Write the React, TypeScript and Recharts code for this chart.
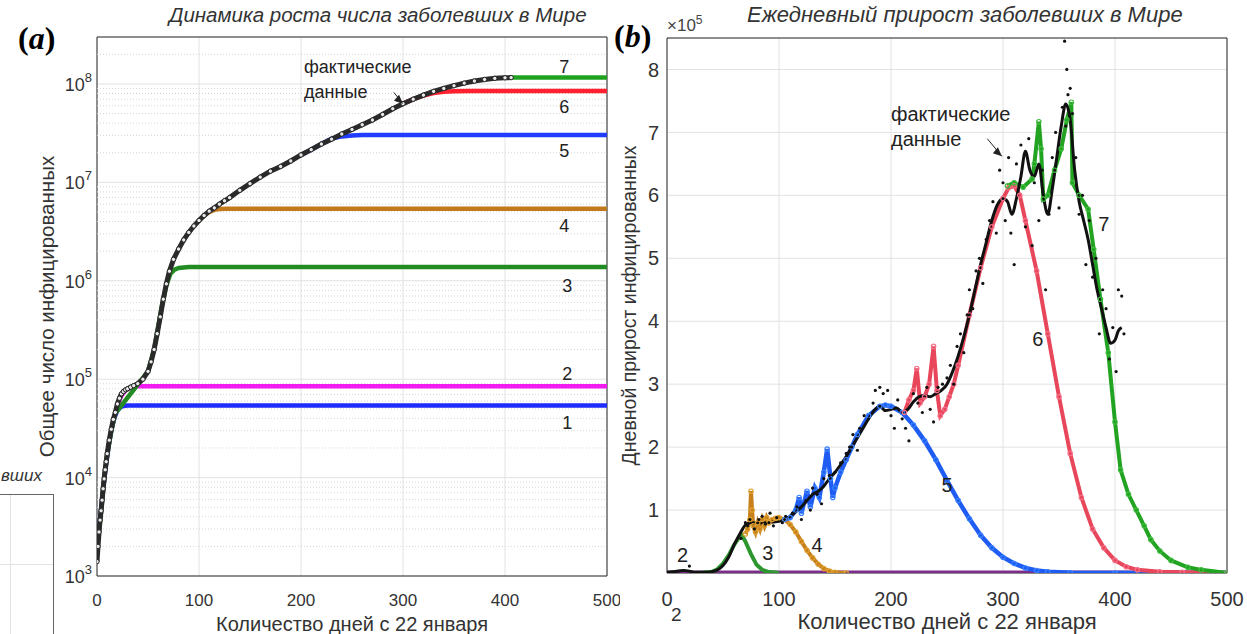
import React from "react";
import {
  ComposedChart,
  Line,
  Scatter,
  XAxis,
  YAxis,
  CartesianGrid,
  ReferenceLine,
  ReferenceDot,
  ReferenceArea,
} from "recharts";

// ---------- panel (a): cumulative cases, log scale ----------
const dayTicks = [0, 100, 200, 300, 400, 500];
const logTicks = [1e3, 1e4, 1e5, 1e6, 1e7, 1e8];

const actualDays = [
  0, 1, 2, 3, 4, 5, 6, 7, 8, 9, 10, 12, 14, 16, 18, 20, 22, 24, 26, 28, 30, 33, 36, 40, 45, 50, 53, 56, 59, 62,
  65, 68, 71, 75, 80, 85, 90, 95, 100, 105, 110, 115, 120, 125, 130, 140, 150, 160, 170, 180, 190, 200, 210,
  220, 230, 240, 250, 260, 270, 280, 290, 300, 310, 320, 330, 340, 350, 360, 370, 380, 390, 400, 406,
];
const actualCases = [
  1.4e3, 2.0e3, 2.8e3, 3.7e3, 4.6e3, 5.9e3, 7.7e3, 9.7e3, 1.2e4, 1.45e4, 1.75e4, 2.4e4, 3.1e4, 3.9e4, 4.6e4,
  5.6e4, 6.4e4, 7.1e4, 7.5e4, 7.8e4, 8.0e4, 8.3e4, 8.6e4, 9.0e4, 1.0e5, 1.2e5, 1.5e5, 2.0e5, 2.9e5, 4.3e5,
  6.5e5, 9.3e5, 1.25e6, 1.65e6, 2.1e6, 2.6e6, 3.1e6, 3.6e6, 4.1e6, 4.6e6, 5.1e6, 5.5e6, 6.0e6, 6.5e6, 7.0e6,
  8.3e6, 9.7e6, 1.13e7, 1.3e7, 1.45e7, 1.65e7, 1.9e7, 2.15e7, 2.45e7, 2.75e7, 3.1e7, 3.45e7, 3.85e7, 4.3e7,
  4.9e7, 5.6e7, 6.3e7, 7.0e7, 7.7e7, 8.4e7, 9.0e7, 9.6e7, 1.02e8, 1.07e8, 1.11e8, 1.14e8, 1.155e8, 1.16e8,
];

const fit1Days = [0, 2, 4, 6, 8, 10, 12, 14, 16, 18, 20, 23, 26, 30, 500];
const fit1Cases = [2.0e3, 3.0e3, 4.8e3, 7.5e3, 1.15e4, 1.65e4, 2.3e4, 3.0e4, 3.7e4, 4.3e4, 4.8e4, 5.2e4, 5.35e4, 5.4e4, 5.4e4];
const fit2Days = [20, 24, 28, 32, 36, 42, 500];
const fit2Cases = [5.5e4, 6.8e4, 7.7e4, 8.1e4, 8.35e4, 8.5e4, 8.5e4];
const fit3Days = [0, 2, 4, 6, 8, 10, 14, 18, 50, 56, 60, 64, 68, 72, 76, 80, 90, 500];
const fit3Cases = [2.2e3, 2.9e3, 4.5e3, 7.6e3, 1.2e4, 1.7e4, 3.0e4, 4.5e4, 1.2e5, 2.0e5, 3.4e5, 5.8e5, 9.0e5, 1.18e6, 1.3e6, 1.35e6, 1.38e6, 1.38e6];
const fit4Days = [100, 105, 110, 115, 120, 128, 500];
const fit4Cases = [4.1e6, 4.6e6, 5.0e6, 5.25e6, 5.35e6, 5.4e6, 5.4e6];
const fit5Days = [200, 210, 220, 230, 240, 250, 260, 500];
const fit5Cases = [1.9e7, 2.15e7, 2.45e7, 2.78e7, 2.93e7, 3.0e7, 3.03e7, 3.03e7];
const fit6Days = [300, 310, 320, 330, 340, 350, 365, 500];
const fit6Cases = [6.3e7, 7.0e7, 7.6e7, 8.1e7, 8.35e7, 8.45e7, 8.5e7, 8.5e7];
const fit7Days = [406, 500];
const fit7Cases = [1.16e8, 1.16e8];

// ---------- panel (b): daily new cases ----------
const dailyTicks = [100000, 200000, 300000, 400000, 500000, 600000, 700000, 800000];

const avgDays = [
  0, 5, 10, 15, 20, 25, 30, 35, 40, 45, 50, 55, 60, 65, 70, 75, 80, 85, 90, 95, 100, 105, 110, 115, 120, 125,
  130, 135, 140, 145, 150, 155, 160, 165, 170, 175, 180, 185, 190, 195, 200, 205, 210, 215, 220, 225, 230, 235,
  240, 245, 250, 255, 260, 265, 270, 275, 280, 285, 290, 295, 300, 304, 308, 312, 316, 320, 324, 328, 332, 336,
  340, 344, 348, 352, 356, 360, 364, 368, 372, 376, 380, 384, 388, 392, 396, 400, 403, 406,
];
const avgCases = [
  1000, 2000, 3000, 4000, 3000, 1000, 1000, 1000, 2000, 5000, 12000, 25000, 45000, 62000, 76000, 80000, 79000,
  80000, 80000, 81000, 82000, 85000, 90000, 97000, 105000, 115000, 125000, 130000, 138000, 150000, 160000,
  172000, 185000, 200000, 215000, 230000, 245000, 258000, 265000, 258000, 260000, 262000, 255000, 260000,
  272000, 280000, 282000, 280000, 285000, 290000, 300000, 320000, 345000, 375000, 410000, 450000, 490000,
  525000, 560000, 585000, 595000, 590000, 570000, 595000, 630000, 670000, 640000, 630000, 650000, 600000,
  570000, 610000, 660000, 710000, 745000, 720000, 640000, 590000, 560000, 530000, 490000, 450000, 420000,
  390000, 365000, 370000, 385000, 390000,
];

const dotDays = [
  20, 66, 70, 72, 74, 78, 82, 85, 88, 92, 95, 98, 103, 106, 112, 116, 120, 124, 128, 130, 134, 138, 140, 145,
  150, 155, 160, 163, 166, 170, 172, 176, 180, 184, 186, 190, 193, 197, 200, 203, 206, 210, 213, 216, 220, 224,
  228, 232, 235, 238, 242, 246, 250, 253, 256, 259, 262, 265, 268, 270, 273, 276, 279, 282, 285, 288, 291, 294,
  297, 300, 302, 305, 307, 310, 312, 316, 320, 323, 326, 328, 332, 335, 338, 341, 344, 347, 350, 353, 355, 356,
  357, 358, 360, 362, 365, 368, 371, 374, 377, 380, 383, 386, 389, 392, 395, 398, 401, 403, 406, 408,
];
const dotCases = [
  11000, 55000, 80000, 75000, 85000, 70000, 85000, 90000, 78000, 95000, 75000, 88000, 80000, 90000, 95000,
  105000, 85000, 115000, 100000, 135000, 125000, 110000, 150000, 155000, 160000, 175000, 190000, 200000,
  220000, 195000, 230000, 250000, 245000, 270000, 290000, 295000, 285000, 290000, 250000, 230000, 275000,
  245000, 230000, 210000, 285000, 270000, 255000, 295000, 260000, 240000, 295000, 300000, 310000, 330000,
  300000, 360000, 380000, 350000, 410000, 450000, 420000, 480000, 500000, 460000, 530000, 560000, 590000,
  540000, 640000, 620000, 560000, 660000, 540000, 490000, 650000, 680000, 550000, 690000, 520000, 620000,
  560000, 640000, 450000, 570000, 660000, 700000, 580000, 740000, 845000, 710000, 800000, 760000, 770000,
  730000, 660000, 570000, 600000, 490000, 560000, 470000, 500000, 380000, 450000, 420000, 340000, 390000,
  320000, 450000, 440000, 380000,
];

const c3Days = [30, 40, 45, 50, 55, 60, 65, 67, 70, 75, 80, 85, 90, 100];
const c3Cases = [0, 2000, 6000, 15000, 28000, 45000, 58000, 60000, 50000, 30000, 13000, 5000, 2000, 0];
const c4Days = [70, 72, 74, 75, 76, 77, 79, 81, 83, 85, 87, 89, 91, 94, 97, 100, 105, 110, 115, 120, 125, 130, 135, 140, 145, 150, 160];
const c4Cases = [
  62000, 70000, 85000, 130000, 100000, 75000, 65000, 80000, 70000, 85000, 75000, 88000, 80000, 85000, 87000,
  88000, 85000, 77000, 65000, 50000, 36000, 24000, 14000, 7000, 3000, 1000, 0,
];
const c5Days = [
  105, 110, 115, 118, 120, 125, 128, 132, 136, 140, 143, 146, 148, 150, 155, 160, 165, 170, 180, 190, 195, 200,
  210, 220, 230, 240, 250, 260, 270, 280, 290, 300, 310, 320, 330, 340, 360, 400, 500,
];
const c5Cases = [
  85000, 88000, 100000, 120000, 95000, 130000, 105000, 135000, 120000, 160000, 197000, 150000, 120000, 135000,
  160000, 180000, 200000, 220000, 250000, 265000, 267000, 265000, 255000, 235000, 210000, 180000, 147000,
  115000, 86000, 60000, 40000, 25000, 15000, 8000, 4000, 2000, 500, 0, 0,
];
const c6Days = [
  212, 216, 220, 223, 226, 230, 234, 238, 241, 244, 248, 252, 256, 260, 270, 280, 290, 300, 305, 310, 315, 320,
  330, 340, 350, 360, 370, 380, 390, 400, 410, 420, 440, 460, 500,
];
const c6Cases = [
  255000, 275000, 290000, 325000, 270000, 280000, 300000, 360000, 290000, 250000, 260000, 280000, 300000,
  330000, 410000, 485000, 550000, 595000, 612000, 615000, 600000, 560000, 480000, 380000, 280000, 190000,
  120000, 70000, 40000, 20000, 10000, 5000, 2000, 1000, 0,
];
const c7Days = [
  304, 310, 318, 326, 328, 332, 334, 336, 340, 346, 352, 357, 361, 362, 368, 376, 381, 387, 394, 400, 405, 412,
  419, 426, 432, 440, 450, 465, 477, 500,
];
const c7Cases = [
  615000, 620000, 613000, 626000, 650000, 717000, 674000, 594000, 600000, 640000, 674000, 720000, 748000,
  620000, 600000, 578000, 514000, 435000, 350000, 240000, 164000, 125000, 100000, 75000, 53000, 35000, 20000,
  9000, 5000, 0,
];
const baseDays = [0, 500];
const baseCases = [0, 0];

const zip = (xs: number[], ys: number[]) => xs.map((x, i) => ({ x, y: ys[i] }));

const minorLog: number[] = [];
for (let d = 3; d <= 8; d++) {
  for (let k = 2; k <= 9; k++) {
    const v = k * Math.pow(10, d);
    if (v < 3e8) minorLog.push(v);
  }
}

const font = "'Liberation Sans', Arial, sans-serif";
const ink = "#333";

function LogTick(props: any) {
  const { x, y, payload } = props;
  const e = Math.round(Math.log10(payload.value));
  return (
    <text x={x} y={y + 7} textAnchor="end" fill={ink} fontSize={18} fontFamily={font}>
      10
      <tspan dy={-9} fontSize={13}>
        {e}
      </tspan>
    </text>
  );
}

const numLabel = (value: string, fs = 18) => ({
  value,
  position: "center" as const,
  fontSize: fs,
  fill: "#222",
  fontFamily: font,
});

const noteLabel = (value: string, fs: number) => ({
  value,
  position: "right" as const,
  offset: 0,
  fontSize: fs,
  fill: "#222",
  fontFamily: font,
});

function ArrowHead(props: any) {
  const { cx, cy } = props;
  return <path d={`M ${cx} ${cy} L ${cx - 9} ${cy - 3} L ${cx - 4} ${cy - 9} Z`} fill="#222" />;
}

function CumulativeChart() {
  return (
    <ComposedChart
      width={620}
      height={634}
      margin={{ top: 37, right: 13, left: 37, bottom: 8 }}
      style={{ position: "absolute", left: 0, top: 0 }}
    >
      <CartesianGrid stroke="#e2e2e2" />
      <XAxis
        dataKey="x"
        type="number"
        domain={[0, 500]}
        ticks={dayTicks}
        allowDataOverflow
        height={50}
        tickLine={false}
        axisLine={false}
        tickMargin={12}
        tick={{ fontSize: 17, fill: ink, fontFamily: font }}
        label={{ value: "Количество дней с 22 января", position: "insideBottom", offset: -5, fontSize: 20, fill: ink, fontFamily: font }}
      />
      <YAxis
        dataKey="y"
        type="number"
        scale="log"
        domain={[1000, 3e8]}
        ticks={logTicks}
        allowDataOverflow
        width={60}
        tickLine={false}
        axisLine={false}
        tickSize={0}
        tickMargin={5}
        tick={<LogTick />}
        label={{ value: "Общее число инфицированных", angle: -90, position: "center", dx: -20, fontSize: 20.5, fill: ink, fontFamily: font }}
      />
      {minorLog.map((v) => (
        <ReferenceLine key={v} y={v} stroke="#d6d6d6" strokeDasharray="1 2" />
      ))}
      <Line data={zip(fit1Days, fit1Cases)} dataKey="y" stroke="#1f2cff" strokeWidth={4.5} dot={false} isAnimationActive={false} />
      <Line data={zip(fit2Days, fit2Cases)} dataKey="y" stroke="#f21bf2" strokeWidth={4.5} dot={false} isAnimationActive={false} />
      <Line data={zip(fit3Days, fit3Cases)} dataKey="y" stroke="#228b22" strokeWidth={4.5} dot={false} isAnimationActive={false} />
      <Line data={zip(fit4Days, fit4Cases)} dataKey="y" stroke="#c2791c" strokeWidth={4.5} dot={false} isAnimationActive={false} />
      <Line data={zip(fit5Days, fit5Cases)} dataKey="y" stroke="#1f3cff" strokeWidth={4.5} dot={false} isAnimationActive={false} />
      <Line data={zip(fit6Days, fit6Cases)} dataKey="y" stroke="#ff2030" strokeWidth={4.5} dot={false} isAnimationActive={false} />
      <Line data={zip(fit7Days, fit7Cases)} dataKey="y" stroke="#1fa21f" strokeWidth={4.5} dot={false} isAnimationActive={false} />
      <Line
        data={zip(actualDays, actualCases)}
        dataKey="y"
        stroke="#2a2a2a"
        strokeWidth={5}
        dot={{ r: 2.2, stroke: "#222", strokeWidth: 1, fill: "#e8e8e8" }}
        isAnimationActive={false}
      />
      <ReferenceArea x1={0} x2={500} y1={1000} y2={3e8} fill="none" stroke="#2b2b2b" strokeWidth={1} ifOverflow="visible" />
      <ReferenceDot x={203} y={1.5e8} r={0} fill="none" stroke="none" label={noteLabel("фактические", 18)} />
      <ReferenceDot x={203} y={8.3e7} r={0} fill="none" stroke="none" label={noteLabel("данные", 18)} />
      <ReferenceLine segment={[{ x: 291, y: 8.2e7 }, { x: 300, y: 6.3e7 }]} stroke="#222" strokeWidth={1} />
      <ReferenceDot x={300} y={6.3e7} r={1} shape={<ArrowHead />} />
      <ReferenceDot x={458} y={1.5e8} r={0} fill="none" stroke="none" label={numLabel("7")} />
      <ReferenceDot x={458} y={5.9e7} r={0} fill="none" stroke="none" label={numLabel("6")} />
      <ReferenceDot x={458} y={2.1e7} r={0} fill="none" stroke="none" label={numLabel("5")} />
      <ReferenceDot x={458} y={3.6e6} r={0} fill="none" stroke="none" label={numLabel("4")} />
      <ReferenceDot x={461} y={9.0e5} r={0} fill="none" stroke="none" label={numLabel("3")} />
      <ReferenceDot x={461} y={1.15e5} r={0} fill="none" stroke="none" label={numLabel("2")} />
      <ReferenceDot x={461} y={3.6e4} r={0} fill="none" stroke="none" label={numLabel("1")} />
    </ComposedChart>
  );
}

function DailyChart() {
  return (
    <ComposedChart
      width={647}
      height={634}
      margin={{ top: 38, right: 20, left: 11, bottom: 8 }}
      style={{ position: "absolute", left: 600, top: 0 }}
    >
      <CartesianGrid stroke="#e2e2e2" />
      <XAxis
        dataKey="x"
        type="number"
        domain={[0, 500]}
        ticks={dayTicks}
        allowDataOverflow
        height={53}
        tickLine={false}
        axisLine={false}
        tickMargin={13}
        tick={{ fontSize: 20, fill: ink, fontFamily: font }}
        label={{ value: "Количество дней с 22 января", position: "insideBottom", offset: -3, fontSize: 22, fill: ink, fontFamily: font }}
      />
      <YAxis
        dataKey="y"
        type="number"
        domain={[0, 850000]}
        ticks={dailyTicks}
        allowDataOverflow
        width={56}
        tickLine={false}
        axisLine={false}
        tickSize={0}
        tickMargin={8}
        tickFormatter={(v: number) => String(v / 100000)}
        tick={{ fontSize: 20, fill: ink, fontFamily: font }}
        label={{ value: "Дневной прирост инфицированных", angle: -90, position: "center", dx: -10, fontSize: 19.5, fill: ink, fontFamily: font }}
      />
      <Line data={zip(baseDays, baseCases)} dataKey="y" stroke="#7d2e8d" strokeWidth={5} dot={false} isAnimationActive={false} />
      <Line data={zip(c3Days, c3Cases)} dataKey="y" stroke="#2e962e" strokeWidth={4} dot={false} isAnimationActive={false} />
      <Line data={zip(c4Days, c4Cases)} dataKey="y" stroke="#c7801a" strokeWidth={4} dot={{ r: 2.2, fill: "none", stroke: "#e0a030", strokeWidth: 1.2 }} isAnimationActive={false} />
      <Line data={zip(c5Days, c5Cases)} dataKey="y" stroke="#1f5cf2" strokeWidth={4.5} dot={{ r: 2.2, fill: "none", stroke: "#3a82ff", strokeWidth: 1.2 }} isAnimationActive={false} />
      <Line data={zip(c6Days, c6Cases)} dataKey="y" stroke="#e8465a" strokeWidth={4} dot={{ r: 2.2, fill: "none", stroke: "#f4708a", strokeWidth: 1.2 }} isAnimationActive={false} />
      <Line data={zip(c7Days, c7Cases)} dataKey="y" stroke="#22a322" strokeWidth={4} dot={{ r: 2.2, fill: "none", stroke: "#40bd40", strokeWidth: 1.2 }} isAnimationActive={false} />
      <Line data={zip(avgDays, avgCases)} dataKey="y" stroke="#111" strokeWidth={3} dot={false} type="monotone" isAnimationActive={false} />
      <Scatter
        data={zip(dotDays, dotCases)}
        dataKey="y"
        fill="#111"
        shape={(p: any) => <circle cx={p.cx} cy={p.cy} r={1.6} fill="#111" />}
        isAnimationActive={false}
      />
      <ReferenceArea x1={0} x2={500} y1={0} y2={850000} fill="none" stroke="#2b2b2b" strokeWidth={1} ifOverflow="visible" />
      <ReferenceDot x={200} y={730000} r={0} fill="none" stroke="none" label={noteLabel("фактические", 20)} />
      <ReferenceDot x={200} y={690000} r={0} fill="none" stroke="none" label={noteLabel("данные", 20)} />
      <ReferenceLine segment={[{ x: 286, y: 690000 }, { x: 299, y: 662000 }]} stroke="#222" strokeWidth={1} />
      <ReferenceDot x={299} y={662000} r={1} shape={<ArrowHead />} />
      <ReferenceDot x={390} y={555000} r={0} fill="none" stroke="none" label={numLabel("7", 20)} />
      <ReferenceDot x={331} y={372000} r={0} fill="none" stroke="none" label={numLabel("6", 20)} />
      <ReferenceDot x={250} y={140000} r={0} fill="none" stroke="none" label={numLabel("5", 20)} />
      <ReferenceDot x={134} y={45000} r={0} fill="none" stroke="none" label={numLabel("4", 20)} />
      <ReferenceDot x={90} y={32000} r={0} fill="none" stroke="none" label={numLabel("3", 20)} />
      <ReferenceDot x={14} y={29000} r={0} fill="none" stroke="none" label={numLabel("2", 20)} />
    </ComposedChart>
  );
}

export default function App() {
  const abs = (l: number, t: number): React.CSSProperties => ({ position: "absolute", left: l, top: t, whiteSpace: "nowrap" });
  return (
    <div style={{ position: "absolute", left: 0, top: 0, width: 1247, height: 634, background: "#fff", overflow: "hidden", fontFamily: font, color: ink }}>
      <CumulativeChart />
      <DailyChart />
      <div style={{ ...abs(169, 3), fontSize: 20.5, fontStyle: "italic" }}>Динамика роста числа заболевших в Мире</div>
      <div style={{ ...abs(747, 2), fontSize: 22, fontStyle: "italic" }}>Ежедневный прирост заболевших в Мире</div>
      <div style={{ ...abs(18, 20), fontSize: 32, fontWeight: "bold", fontFamily: "'Liberation Serif', serif", color: "#000" }}>
        (<i>a</i>)
      </div>
      <div style={{ ...abs(614, 18), fontSize: 32, fontWeight: "bold", fontFamily: "'Liberation Serif', serif", color: "#000" }}>
        (<i>b</i>)
      </div>
      <div style={{ ...abs(667, 13), fontSize: 17, color: "#444" }}>
        ×10<sup style={{ fontSize: 12 }}>5</sup>
      </div>
      <div style={{ ...abs(671, 605), fontSize: 19, lineHeight: "20px" }}>2</div>
      <div style={{ ...abs(1, 466), fontSize: 17, fontStyle: "italic" }}>вших</div>
      <div style={{ position: "absolute", left: -10, top: 494, width: 62, height: 150, border: "1px solid #666" }}>
        <div style={{ position: "absolute", left: 19, top: 0, width: 1, height: 150, background: "#e2e2e2" }} />
        <div style={{ position: "absolute", left: 0, top: 69, width: 62, height: 1, background: "#e2e2e2" }} />
      </div>
    </div>
  );
}
